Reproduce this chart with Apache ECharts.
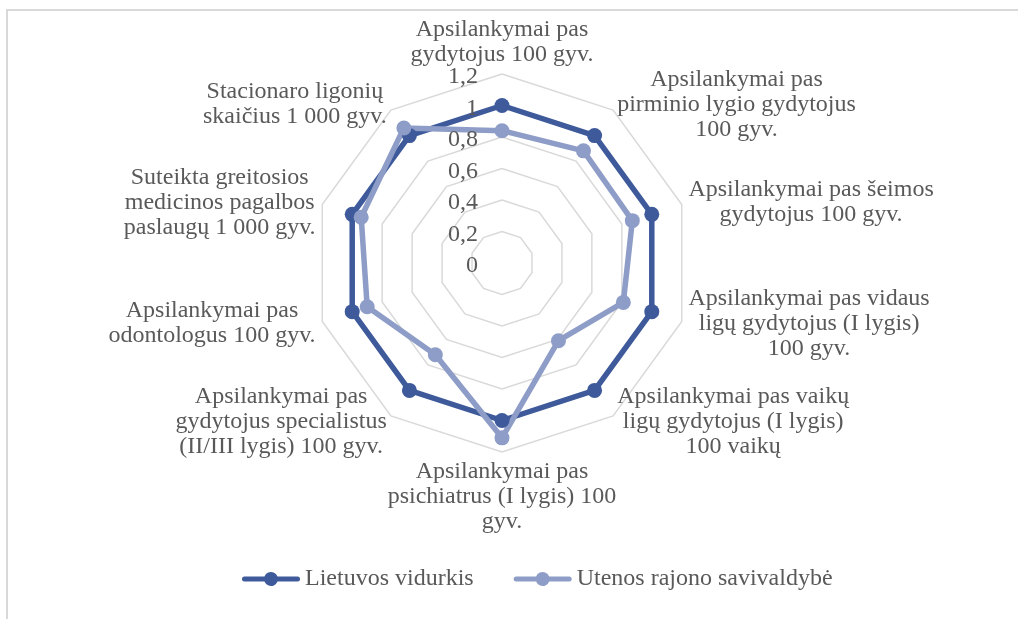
<!DOCTYPE html>
<html><head><meta charset="utf-8">
<script src="https://cdn.jsdelivr.net/npm/echarts@6/dist/echarts.min.js"></script>
<style>html,body{margin:0;padding:0;background:#fff}#c{width:1018px;height:619px}</style>
</head><body><div id="c"></div>
<script>
// Indicators in clockwise order starting from the top
const categories = [
  'Apsilankymai pas\ngydytojus 100 gyv.',
  'Apsilankymai pas\npirminio lygio gydytojus\n100 gyv.',
  'Apsilankymai pas šeimos\ngydytojus 100 gyv.',
  'Apsilankymai pas vidaus\nligų gydytojus (I lygis)\n100 gyv.',
  'Apsilankymai pas vaikų\nligų gydytojus (I lygis)\n100 vaikų',
  'Apsilankymai pas\npsichiatrus (I lygis) 100\ngyv.',
  'Apsilankymai pas\ngydytojus specialistus\n(II/III lygis) 100 gyv.',
  'Apsilankymai pas\nodontologus 100 gyv.',
  'Suteikta greitosios\nmedicinos pagalbos\npaslaugų 1 000 gyv.',
  'Stacionaro ligonių\nskaičius 1 000 gyv.'
];
const seriesNames = ['Lietuvos vidurkis', 'Utenos rajono savivaldybė'];
const lietuvos = [1, 1, 1, 1, 1, 1, 1, 1, 1, 1];
const utenos = [0.84, 0.88, 0.87, 0.81, 0.61, 1.11, 0.72, 0.90, 0.94, 1.06];
const tickLabels = ['0', '0,2', '0,4', '0,6', '0,8', '1', '1,2'];
const axisMax = 1.2;
const axisStep = 0.2;

// ECharts lays radar indicators counter-clockwise; reorder so they run clockwise.
const order = [0, 9, 8, 7, 6, 5, 4, 3, 2, 1];
const pick = arr => order.map(i => arr[i]);

const FONT = 'Liberation Serif';
const TXT = '#595959';
const C1 = '#3e5a9b';
const C2 = '#8e9dc7';
// legend icon: rounded line with a dot in the middle (single outline, no overlap)
const LINE_ICON = 'path://M2.5,4.5 L22.462,4.5 A7,7 0 0 1 35.538,4.5 L55.5,4.5 A2.5,2.5 0 0 1 55.5,9.5 L35.538,9.5 A7,7 0 0 1 22.462,9.5 L2.5,9.5 A2.5,2.5 0 0 1 2.5,4.5 Z';

const chart = echarts.init(document.getElementById('c'), null, {renderer: 'canvas'});
chart.setOption({
  backgroundColor: '#ffffff',
  animation: false,
  graphic: [{
    type: 'rect', silent: true, z: -10,
    shape: {x: 7, y: 10, width: 1200, height: 800},
    style: {fill: 'none', stroke: '#d9d9d9', lineWidth: 2}
  }],
  legend: {
    left: 242, top: 567, padding: 0,
    itemWidth: 58, itemHeight: 14, itemGap: 40,
    textStyle: {fontFamily: FONT, fontSize: 24, color: TXT},
    data: [
      {name: seriesNames[0], icon: LINE_ICON, itemStyle: {color: C1}},
      {name: seriesNames[1], icon: LINE_ICON, itemStyle: {color: C2}}
    ]
  },
  radar: {
    center: [502, 263],
    radius: 189,
    shape: 'polygon',
    splitNumber: 6,
    nameGap: 7,
    axisName: {
      color: TXT, fontFamily: FONT, fontSize: 24, lineHeight: 25,
      formatter: name => name.split('\n').map(l => '{c|' + l + '}').join('\n'),
      rich: {c: {align: 'center', color: TXT, fontFamily: FONT, fontSize: 24, lineHeight: 25}}
    },
    axisLine: {show: false},
    axisTick: {show: false},
    axisLabel: {show: false},
    splitArea: {show: false},
    splitLine: {lineStyle: {color: '#d9d9d9', width: 1.5}},
    indicator: pick(categories).map(n => ({name: n, min: 0, max: axisMax}))
  },
  // value labels of the scale, drawn by a polar radius axis laid over the radar
  polar: {center: [502, 266], radius: 189},
  angleAxis: {
    type: 'value', startAngle: 90, min: 0, max: 360, show: false
  },
  radiusAxis: {
    type: 'value', min: 0, max: axisMax, interval: axisStep,
    axisLine: {show: false}, axisTick: {show: false}, splitLine: {show: false},
    axisLabel: {
      margin: 24, fontFamily: FONT, fontSize: 24, color: TXT,
      formatter: v => tickLabels[Math.round(v / axisStep)]
    },
    z: 5
  },
  series: [{
    type: 'radar',
    z: 3,
    symbol: 'circle', symbolSize: 15,
    data: [
      {
        name: seriesNames[0], value: pick(lietuvos),
        lineStyle: {color: C1, width: 5.5},
        itemStyle: {color: C1}
      },
      {
        name: seriesNames[1], value: pick(utenos),
        lineStyle: {color: C2, width: 5.5},
        itemStyle: {color: C2}
      }
    ]
  }]
});
</script>
</body></html>
